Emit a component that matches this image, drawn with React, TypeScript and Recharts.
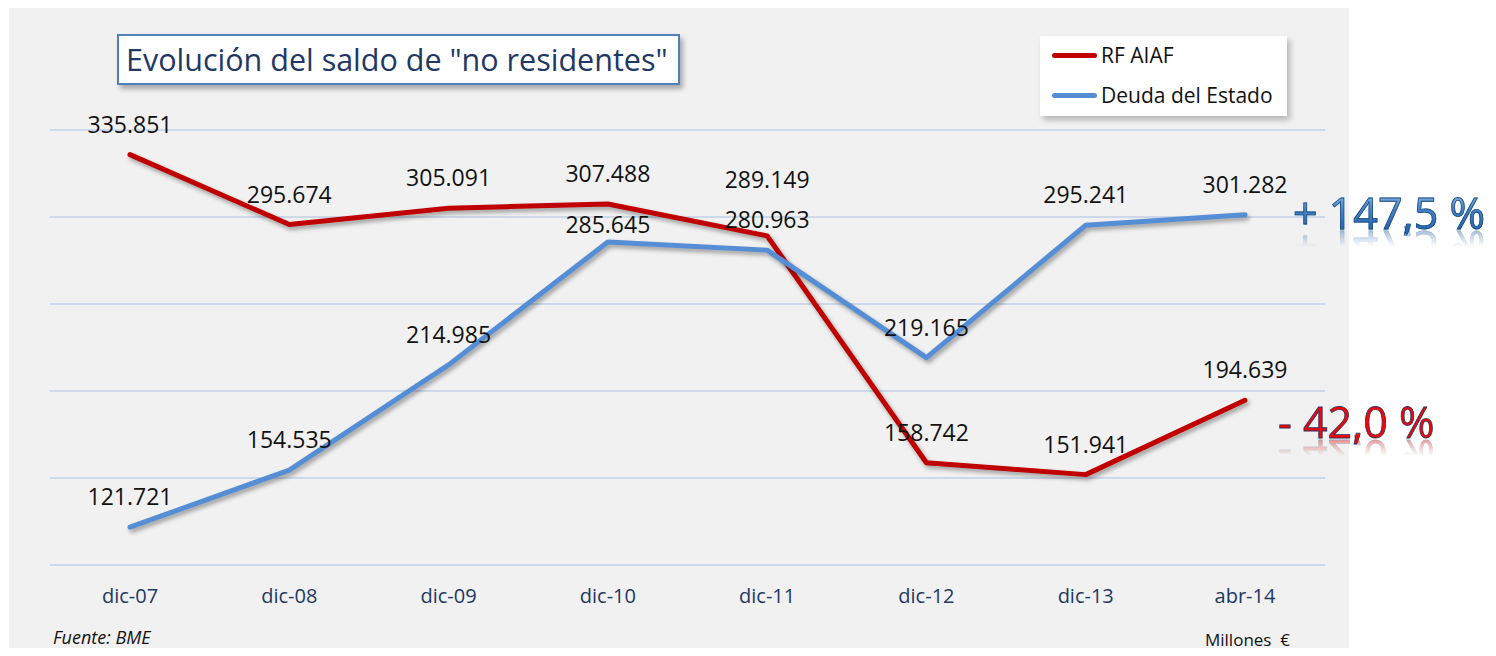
import { LineChart, Line, XAxis, YAxis, CartesianGrid, LabelList } from 'recharts';

const periods = ['dic-07', 'dic-08', 'dic-09', 'dic-10', 'dic-11', 'dic-12', 'dic-13', 'abr-14'];
const rfAiaf = [335851, 295674, 305091, 307488, 289149, 158742, 151941, 194639];
const deudaEstado = [121721, 154535, 214985, 285645, 280963, 219165, 295241, 301282];
const yTicks = [100000, 150000, 200000, 250000, 300000, 350000];

const data = periods.map((p, i) => ({ period: p, rf: rfAiaf[i], deuda: deudaEstado[i] }));

const FONT = '"Open Sans", "Noto Sans", sans-serif';
const RED = '#c00000';
const BLUE = '#558ed5';

const fmt = (v: number) => v.toLocaleString('de-DE');

// label offsets above the point; a couple are nudged like in the original
const makeLabel = (series: 'rf' | 'deuda') => (props: any) => {
  const { x, y, value, index } = props;
  let off = 31;
  if (series === 'rf' && index === 4) off = 57;
  if (series === 'deuda' && index === 3) off = 18;
  return (
    <text x={x} y={y - off} textAnchor="middle" dominantBaseline="central"
      fontSize={23} fontFamily={FONT} fill="#111">
      {fmt(value)}
    </text>
  );
};

// big change figures with a mirrored reflection (css box-reflect, so no duplicate text)
const reflect = 'below -8px linear-gradient(transparent 52%, rgba(255,255,255,0.55))';

export default function App() {
  return (
    <div style={{ position: 'relative', width: 1496, height: 656, margin: -8, background: '#fff', overflow: 'hidden', fontFamily: FONT }}>
      <style>{`.recharts-line-curve{filter:drop-shadow(2px 3px 2px rgba(0,0,0,0.35));}`}</style>
      <div style={{ position: 'absolute', left: 9, top: 6, width: 1340, height: 650, background: '#f1f1f1' }} />
      <div style={{ position: 'absolute', left: 0, top: 0 }}>
        <LineChart width={1496} height={656} data={data} margin={{ top: 130, right: 171, bottom: 51, left: 50 }}>
          <CartesianGrid vertical={false} stroke="#a9c1e0" strokeWidth={1} />
          <XAxis dataKey="period" axisLine={false} tickLine={false} tickSize={0} tickMargin={24} height={40}
            padding={{ left: 80, right: 80 }} interval={0}
            tick={{ fontSize: 20, fill: '#1f3864', fontFamily: FONT }} />
          <YAxis hide domain={[100000, 350000]} ticks={yTicks} />
          <Line dataKey="rf" name="RF AIAF" stroke={RED} strokeWidth={5} strokeLinecap="round" strokeLinejoin="round"
            dot={false} activeDot={false} isAnimationActive={false}>
            <LabelList dataKey="rf" content={makeLabel('rf')} />
          </Line>
          <Line dataKey="deuda" name="Deuda del Estado" stroke={BLUE} strokeWidth={5} strokeLinecap="round" strokeLinejoin="round"
            dot={false} activeDot={false} isAnimationActive={false}>
            <LabelList dataKey="deuda" content={makeLabel('deuda')} />
          </Line>
        </LineChart>
      </div>
      <span style={{
        position: 'absolute', left: 1293, top: 191, fontSize: 43, lineHeight: '43px', whiteSpace: 'pre',
        background: 'linear-gradient(#9cc0ea 0%, #4a86cf 40%, #1f5fae 100%)', WebkitBackgroundClip: 'text',
        backgroundClip: 'text', color: 'transparent', WebkitTextStroke: '0.8px #1f4e79', WebkitBoxReflect: reflect
      } as any}>+ 147,5 %</span>
      <span style={{
        position: 'absolute', left: 1278, top: 400, fontSize: 43, lineHeight: '43px', whiteSpace: 'pre',
        color: '#ff0000', WebkitTextStroke: '0.8px #1f3864', WebkitBoxReflect: reflect
      } as any}>- 42,0 %</span>
      <div style={{
        position: 'absolute', left: 117, top: 34, width: 552, height: 47, background: '#fff',
        border: '2px solid #4f81bd', boxShadow: '3px 4px 5px rgba(0,0,0,0.3)', color: '#1f3864',
        fontSize: 30.5, lineHeight: '47px', paddingLeft: 7, whiteSpace: 'nowrap'
      }}>
        Evolución del saldo de "no residentes"
      </div>
      <div style={{
        position: 'absolute', left: 1040, top: 36, width: 247, height: 80, background: '#fff',
        boxShadow: '3px 4px 6px rgba(0,0,0,0.25)', fontSize: 21, color: '#111'
      }}>
        {[{ label: 'RF AIAF', color: RED, y: 19 }, { label: 'Deuda del Estado', color: BLUE, y: 59 }].map(item => (
          <div key={item.label} style={{ position: 'absolute', left: 12, top: item.y - 15, height: 30, display: 'flex', alignItems: 'center' }}>
            <div style={{ width: 45, height: 5, background: item.color, borderRadius: 3, marginRight: 4 }} />
            <span>{item.label}</span>
          </div>
        ))}
      </div>
      <div style={{ position: 'absolute', left: 53, top: 625, fontSize: 18, fontStyle: 'italic', color: '#111' }}>Fuente: BME</div>
      <div style={{ position: 'absolute', left: 1205, top: 628, fontSize: 17, color: '#111' }}>Millones&nbsp; €</div>
    </div>
  );
}
